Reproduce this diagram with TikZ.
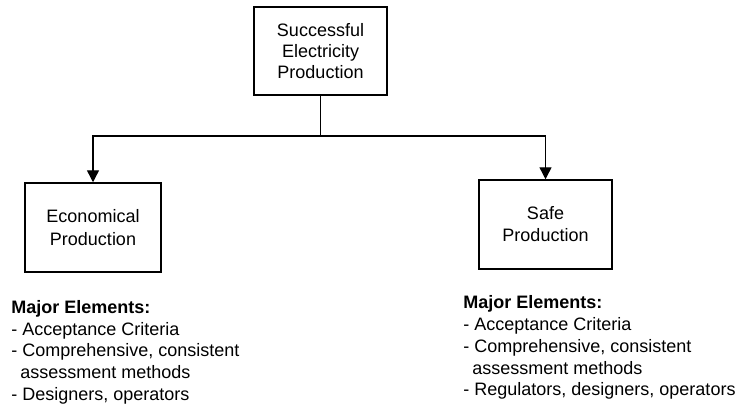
\documentclass[tikz,border=0pt]{standalone}
\usepackage{fontspec}
\setmainfont{Liberation Sans}
\usetikzlibrary{arrows.meta}
\begin{document}
\begin{tikzpicture}[x=0.5pt,y=-0.5pt,
  box/.style={draw,line width=0.75pt,inner sep=0pt,align=center,
    font=\fontsize{9pt}{10.3pt}\selectfont},
  link/.style={line width=0.7pt},
  arrowlink/.style={link,-{Triangle[width=6pt,length=6pt]}},
  notes/.style={anchor=north west,inner sep=0pt,align=left,
    font=\fontsize{9pt}{10.85pt}\selectfont}]
\useasboundingbox (0,0) rectangle (747,407);

% goal and its two sub-goals
\node[box,minimum width=66.5pt,minimum height=44pt] (goal) at (320.5,51) {Successful\\Electricity\\Production};
\node[box,minimum width=68pt,minimum height=44.5pt,
  font=\fontsize{9pt}{11.5pt}\selectfont] (econ) at (93,227.5) {Economical\\Production};
\node[box,minimum width=66.5pt,minimum height=44.5pt,
  font=\fontsize{9pt}{11pt}\selectfont] (safe) at (545.5,224.5) {Safe\\Production};

% tree connectors
\coordinate (split) at (320.5,136);
\draw[link] (goal.south) -- (split);
\draw[arrowlink] (split) -| (econ.north);
\draw[arrowlink] (split) -| (safe.north);

% lists of major elements
\node[notes] (econlist) at (11,300) {\textbf{Major Elements:}\\
- Acceptance Criteria\\
- Comprehensive, consistent\\
\hspace*{0.5em}assessment methods\\
- Designers, operators};
\node[notes] (safelist) at (463,295.5) {\textbf{Major Elements:}\\
- Acceptance Criteria\\
- Comprehensive, consistent\\
\hspace*{0.5em}assessment methods\\
- Regulators, designers, operators};
\end{tikzpicture}
\end{document}
